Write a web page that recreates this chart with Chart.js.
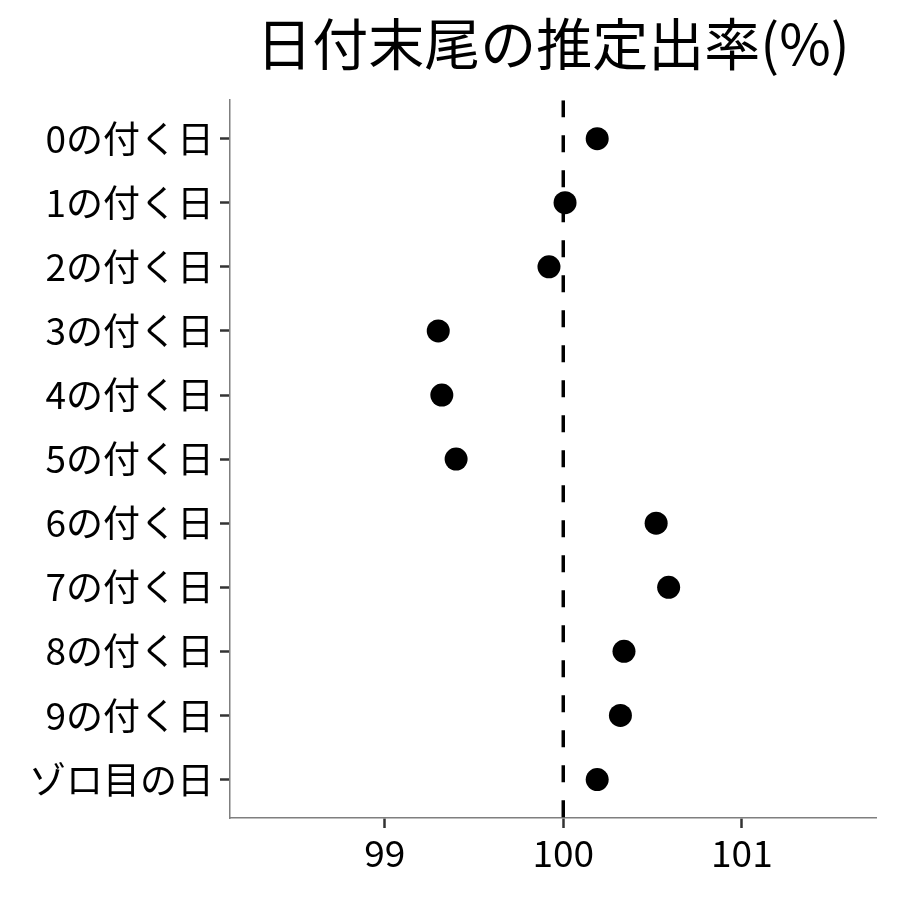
<!DOCTYPE html>
<html>
<head>
<meta charset="utf-8">
<script src="https://cdn.jsdelivr.net/npm/chart.js@4"></script>
<style>
html,body{margin:0;padding:0;background:#fff;}
#wrap{width:900px;height:900px;}
</style>
</head>
<body>
<div id="wrap"><canvas id="c" width="900" height="900"></canvas></div>
<script>
const titleText = "日付末尾の推定出率(%)";
const categories = ["0の付く日","1の付く日","2の付く日","3の付く日","4の付く日","5の付く日","6の付く日","7の付く日","8の付く日","9の付く日","ゾロ目の日"];
const rates = [100.19, 100.01, 99.92, 99.30, 99.32, 99.40, 100.52, 100.59, 100.34, 100.32, 100.19];
const refValue = 100;
const xTicks = [99, 100, 101];
const xMin = 98.134, xMax = 101.751;

const FONT = "'Noto Sans CJK JP', 'Noto Sans', sans-serif";

const pts = categories.map((c, i) => ({x: rates[i], y: i}));

new Chart(document.getElementById('c'), {
  type: 'scatter',
  data: {
    datasets: [
      {
        type: 'line',
        data: [{x: refValue, y: -0.6}, {x: refValue, y: categories.length - 1 + 0.6}],
        borderColor: '#000',
        borderWidth: 3.5,
        borderDash: [17, 18],
        pointRadius: 0,
        fill: false,
        order: 2
      },
      {
        data: pts,
        backgroundColor: '#000',
        borderColor: '#000',
        pointRadius: 11.5,
        pointHoverRadius: 11.5,
        borderWidth: 0,
        order: 1
      }
    ]
  },
  options: {
    responsive: false,
    animation: false,
    devicePixelRatio: 1,
    layout: {padding: {left: 0, right: 24, top: 0, bottom: 0}},
    plugins: {
      legend: {display: false},
      tooltip: {enabled: false},
      title: {
        display: true,
        text: titleText,
        fullSize: false,
        color: '#000',
        font: {family: FONT, size: 56, weight: 'normal', lineHeight: 1.2},
        padding: {top: 10, bottom: 23}
      }
    },
    scales: {
      x: {
        type: 'linear',
        min: xMin,
        max: xMax,
        afterBuildTicks: (s) => { s.ticks = xTicks.map(v => ({value: v})); },
        afterFit: (s) => { s.height = 82; },
        grid: {display: true, drawTicks: true, tickLength: 10, tickColor: '#333', tickWidth: 2.5, drawOnChartArea: false},
        border: {display: true, color: '#7f7f7f', width: 1.5},
        ticks: {color: '#000', font: {family: FONT, size: 37}, padding: 3, maxRotation: 0}
      },
      y: {
        type: 'linear',
        reverse: true,
        min: -0.6,
        max: categories.length - 1 + 0.6,
        afterBuildTicks: (s) => { s.ticks = categories.map((c, i) => ({value: i})); },
        afterFit: (s) => { s.width = 230; },
        grid: {display: true, drawTicks: true, tickLength: 10, tickColor: '#333', tickWidth: 2.5, drawOnChartArea: false},
        border: {display: true, color: '#7f7f7f', width: 1.5},
        ticks: {
          color: '#000',
          font: {family: FONT, size: 37},
          padding: 6,
          callback: (v) => categories[v] !== undefined ? categories[v] : ''
        }
      }
    }
  }
});
</script>
</body>
</html>
